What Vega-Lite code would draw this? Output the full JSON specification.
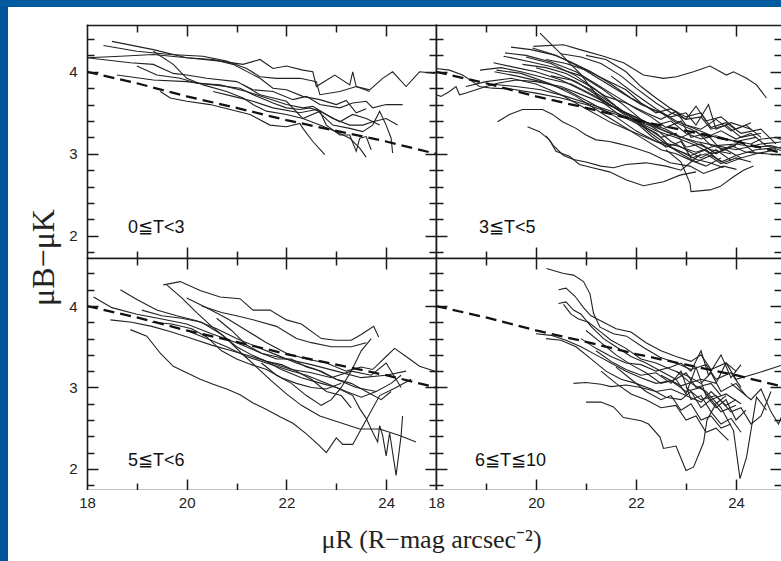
{
  "$schema": "https://vega.github.io/schema/vega-lite/v6.json",
  "background": "white",
  "padding": 0,
  "spacing": 0,
  "bounds": "flush",
  "config": {
    "view": {"stroke": null, "fill": "white"},
    "axis": {"grid": false, "domain": false, "labels": false, "labelFlush": false, "minExtent": 0, "tickColor": "#1a1a1a", "tickWidth": 1.5, "domainColor": "#1a1a1a", "domainWidth": 1.6, "domainCap": "square"}
  },
  "datasets": {
    "dash": [
      {"x": 18, "y": 4.0}, {"x": 19, "y": 3.86}, {"x": 20, "y": 3.7}, {"x": 21, "y": 3.56},
      {"x": 22, "y": 3.41}, {"x": 23, "y": 3.28}, {"x": 24, "y": 3.15}, {"x": 25, "y": 3.0}
    ],
    "tl": [
      {"g":"A","x":18.5,"y":4.37},{"g":"A","x":19.33,"y":4.27},{"g":"A","x":20.0,"y":4.17},{"g":"A","x":20.67,"y":4.13},{"g":"A","x":21.13,"y":4.09},{"g":"A","x":21.47,"y":4.15},{"g":"A","x":21.73,"y":4.04},{"g":"A","x":22.0,"y":4.07},{"g":"A","x":22.33,"y":4.02},{"g":"A","x":22.53,"y":4.0},{"g":"A","x":22.6,"y":3.82},{"g":"A","x":22.97,"y":3.96},{"g":"A","x":23.27,"y":3.84},{"g":"A","x":23.33,"y":4.0},{"g":"A","x":23.4,"y":3.82},{"g":"A","x":23.67,"y":3.78},{"g":"A","x":23.93,"y":3.92},{"g":"A","x":24.13,"y":4.0},{"g":"A","x":24.4,"y":3.82},{"g":"A","x":24.67,"y":4.0},{"g":"A","x":24.98,"y":3.98},
      {"g":"B","x":18.33,"y":4.32},{"g":"B","x":19.0,"y":4.25},{"g":"B","x":19.67,"y":4.21},{"g":"B","x":20.33,"y":4.19},{"g":"B","x":20.8,"y":4.13},{"g":"B","x":21.2,"y":4.04},{"g":"B","x":21.47,"y":3.94},{"g":"B","x":21.8,"y":3.92},{"g":"B","x":22.27,"y":3.92},{"g":"B","x":22.6,"y":3.88},{"g":"B","x":22.67,"y":3.72},{"g":"B","x":23.07,"y":3.76},{"g":"B","x":23.4,"y":3.82},{"g":"B","x":23.67,"y":3.76},
      {"g":"C","x":18.0,"y":4.17},{"g":"C","x":18.67,"y":4.19},{"g":"C","x":19.33,"y":4.21},{"g":"C","x":20.0,"y":4.17},{"g":"C","x":20.53,"y":4.15},{"g":"C","x":20.93,"y":4.09},{"g":"C","x":21.47,"y":3.92},{"g":"C","x":21.73,"y":3.8},{"g":"C","x":22.0,"y":3.78},{"g":"C","x":22.33,"y":3.7},{"g":"C","x":22.67,"y":3.66},{"g":"C","x":23.0,"y":3.6},{"g":"C","x":23.2,"y":3.65},{"g":"C","x":23.4,"y":3.5},{"g":"C","x":23.6,"y":3.55},
      {"g":"D","x":18.0,"y":4.17},{"g":"D","x":18.87,"y":4.11},{"g":"D","x":19.33,"y":4.09},{"g":"D","x":19.73,"y":3.98},{"g":"D","x":20.0,"y":3.96},{"g":"D","x":20.4,"y":3.92},{"g":"D","x":21.0,"y":3.88},{"g":"D","x":21.33,"y":3.78},{"g":"D","x":21.73,"y":3.76},{"g":"D","x":22.13,"y":3.66},{"g":"D","x":22.4,"y":3.7},{"g":"D","x":22.67,"y":3.6},{"g":"D","x":23.07,"y":3.56},{"g":"D","x":23.33,"y":3.62},{"g":"D","x":23.6,"y":3.64},{"g":"D","x":23.73,"y":3.56},{"g":"D","x":24.0,"y":3.6},{"g":"D","x":24.33,"y":3.6},
      {"g":"E","x":18.6,"y":3.96},{"g":"E","x":19.33,"y":3.9},{"g":"E","x":20.0,"y":3.88},{"g":"E","x":20.53,"y":3.84},{"g":"E","x":21.07,"y":3.8},{"g":"E","x":21.33,"y":3.72},{"g":"E","x":21.73,"y":3.62},{"g":"E","x":22.0,"y":3.56},{"g":"E","x":22.27,"y":3.54},{"g":"E","x":22.47,"y":3.56},{"g":"E","x":22.67,"y":3.52},{"g":"E","x":22.93,"y":3.43},{"g":"E","x":23.27,"y":3.35},{"g":"E","x":23.53,"y":3.35},{"g":"E","x":23.73,"y":3.39},{"g":"E","x":24.0,"y":3.43},{"g":"E","x":24.23,"y":3.35},
      {"g":"F","x":19.0,"y":4.07},{"g":"F","x":19.4,"y":3.96},{"g":"F","x":19.87,"y":3.92},{"g":"F","x":20.2,"y":3.86},{"g":"F","x":20.67,"y":3.84},{"g":"F","x":21.2,"y":3.76},{"g":"F","x":21.6,"y":3.68},{"g":"F","x":22.0,"y":3.6},{"g":"F","x":22.33,"y":3.56},{"g":"F","x":22.53,"y":3.58},{"g":"F","x":22.8,"y":3.48},{"g":"F","x":23.07,"y":3.39},{"g":"F","x":23.33,"y":3.48},{"g":"F","x":23.6,"y":3.43},{"g":"F","x":23.87,"y":3.35},
      {"g":"G","x":19.47,"y":3.76},{"g":"G","x":19.67,"y":3.68},{"g":"G","x":20.0,"y":3.64},{"g":"G","x":20.47,"y":3.6},{"g":"G","x":20.87,"y":3.54},{"g":"G","x":21.27,"y":3.48},{"g":"G","x":21.67,"y":3.35},{"g":"G","x":22.0,"y":3.33},{"g":"G","x":22.27,"y":3.37},{"g":"G","x":22.33,"y":3.31},{"g":"G","x":22.53,"y":3.15},{"g":"G","x":22.77,"y":2.99},
      {"g":"H","x":19.33,"y":4.25},{"g":"H","x":19.73,"y":4.09},{"g":"H","x":20.0,"y":3.92},{"g":"H","x":20.33,"y":3.84},{"g":"H","x":20.8,"y":3.76},{"g":"H","x":21.13,"y":3.68},{"g":"H","x":21.33,"y":3.6},{"g":"H","x":21.6,"y":3.52},{"g":"H","x":22.0,"y":3.48},{"g":"H","x":22.33,"y":3.43},{"g":"H","x":22.67,"y":3.35},{"g":"H","x":23.0,"y":3.27},{"g":"H","x":23.27,"y":3.19},{"g":"H","x":23.47,"y":3.07},{"g":"H","x":23.6,"y":2.96},
      {"g":"I","x":20.53,"y":3.76},{"g":"I","x":20.93,"y":3.7},{"g":"I","x":21.33,"y":3.64},{"g":"I","x":21.73,"y":3.56},{"g":"I","x":22.27,"y":3.5},{"g":"I","x":22.6,"y":3.54},{"g":"I","x":22.93,"y":3.35},{"g":"I","x":23.27,"y":3.31},{"g":"I","x":23.53,"y":3.27},{"g":"I","x":23.73,"y":3.35},{"g":"I","x":23.87,"y":3.52},{"g":"I","x":24.0,"y":3.35},{"g":"I","x":24.1,"y":3.19},{"g":"I","x":24.13,"y":3.01},
      {"g":"J","x":21.13,"y":3.84},{"g":"J","x":21.47,"y":3.72},{"g":"J","x":22.0,"y":3.64},{"g":"J","x":22.33,"y":3.43},{"g":"J","x":22.67,"y":3.52},{"g":"J","x":22.8,"y":3.35},{"g":"J","x":23.07,"y":3.23},{"g":"J","x":23.27,"y":3.23},{"g":"J","x":23.4,"y":3.03},{"g":"J","x":23.47,"y":3.19},{"g":"J","x":23.6,"y":3.21},{"g":"J","x":23.7,"y":3.05}
    ],
    "tr": [
      {"g":"T1","x":18.0,"y":4.04},{"g":"T1","x":18.27,"y":4.02},{"g":"T1","x":18.53,"y":3.96},{"g":"T1","x":18.73,"y":3.88},{"g":"T1","x":18.87,"y":3.82},{"g":"T1","x":19.13,"y":3.8},{"g":"T1","x":19.5,"y":3.79},{"g":"T1","x":20.0,"y":3.74},{"g":"T1","x":20.5,"y":3.68},{"g":"T1","x":21.0,"y":3.6},{"g":"T1","x":21.5,"y":3.5},{"g":"T1","x":22.0,"y":3.4},{"g":"T1","x":22.4,"y":3.32},{"g":"T1","x":22.8,"y":3.22},{"g":"T1","x":23.2,"y":3.15},{"g":"T1","x":23.6,"y":3.1},{"g":"T1","x":24.0,"y":3.12},{"g":"T1","x":24.4,"y":3.08},{"g":"T1","x":24.7,"y":3.1},{"g":"T1","x":25.0,"y":3.05},
      {"g":"T2","x":18.0,"y":3.72},{"g":"T2","x":18.1,"y":3.7},{"g":"T2","x":18.27,"y":3.76},{"g":"T2","x":18.4,"y":3.82},{"g":"T2","x":18.47,"y":3.72},{"g":"T2","x":18.6,"y":3.74},{"g":"T2","x":18.8,"y":3.78},{"g":"T2","x":19.0,"y":3.82},{"g":"T2","x":19.23,"y":3.86},{"g":"T2","x":19.6,"y":3.9},{"g":"T2","x":20.0,"y":3.88},{"g":"T2","x":20.5,"y":3.82},{"g":"T2","x":21.0,"y":3.7},{"g":"T2","x":21.5,"y":3.58},{"g":"T2","x":22.0,"y":3.45},{"g":"T2","x":22.5,"y":3.3},{"g":"T2","x":23.0,"y":3.18},{"g":"T2","x":23.5,"y":3.05},{"g":"T2","x":23.9,"y":3.0},
      {"g":"T3","x":19.95,"y":4.31},{"g":"T3","x":20.55,"y":4.33},{"g":"T3","x":20.88,"y":4.27},{"g":"T3","x":21.35,"y":4.19},{"g":"T3","x":21.75,"y":4.11},{"g":"T3","x":22.15,"y":3.96},{"g":"T3","x":22.55,"y":3.92},{"g":"T3","x":22.81,"y":3.94},{"g":"T3","x":23.15,"y":4.0},{"g":"T3","x":23.48,"y":4.07},{"g":"T3","x":23.81,"y":3.96},{"g":"T3","x":23.95,"y":4.0},{"g":"T3","x":24.21,"y":3.92},{"g":"T3","x":24.41,"y":3.84},{"g":"T3","x":24.61,"y":3.68},
      {"g":"T4","x":20.08,"y":4.47},{"g":"T4","x":20.28,"y":4.35},{"g":"T4","x":20.48,"y":4.23},{"g":"T4","x":20.68,"y":4.1},{"g":"T4","x":20.88,"y":3.98},{"g":"T4","x":21.08,"y":3.82},{"g":"T4","x":21.35,"y":3.62},{"g":"T4","x":21.61,"y":3.5},{"g":"T4","x":21.88,"y":3.41},{"g":"T4","x":22.15,"y":3.33},{"g":"T4","x":22.41,"y":3.25},{"g":"T4","x":22.68,"y":3.09},{"g":"T4","x":22.95,"y":3.01},{"g":"T4","x":23.21,"y":2.93},{"g":"T4","x":23.48,"y":2.89},{"g":"T4","x":23.75,"y":2.83},
      {"g":"T5","x":19.23,"y":3.39},{"g":"T5","x":19.47,"y":3.48},{"g":"T5","x":19.73,"y":3.54},{"g":"T5","x":20.13,"y":3.54},{"g":"T5","x":20.33,"y":3.48},{"g":"T5","x":20.53,"y":3.39},{"g":"T5","x":20.8,"y":3.31},{"g":"T5","x":21.0,"y":3.23},{"g":"T5","x":21.2,"y":3.17},{"g":"T5","x":21.47,"y":3.15},{"g":"T5","x":21.61,"y":3.13},{"g":"T5","x":21.88,"y":3.09},{"g":"T5","x":22.28,"y":3.01},{"g":"T5","x":22.68,"y":2.89},{"g":"T5","x":23.08,"y":2.85},{"g":"T5","x":23.35,"y":2.76},{"g":"T5","x":23.75,"y":2.85},{"g":"T5","x":24.01,"y":2.81},
      {"g":"T6","x":19.83,"y":3.33},{"g":"T6","x":20.07,"y":3.27},{"g":"T6","x":20.27,"y":3.17},{"g":"T6","x":20.4,"y":3.03},{"g":"T6","x":20.67,"y":2.97},{"g":"T6","x":20.87,"y":2.87},{"g":"T6","x":21.13,"y":2.83},{"g":"T6","x":21.47,"y":2.78},{"g":"T6","x":21.81,"y":2.68},{"g":"T6","x":22.15,"y":2.61},{"g":"T6","x":22.55,"y":2.66},{"g":"T6","x":22.88,"y":2.74},{"g":"T6","x":23.2,"y":2.78},
      {"g":"T7","x":20.2,"y":3.22},{"g":"T7","x":20.35,"y":3.1},{"g":"T7","x":20.55,"y":2.98},{"g":"T7","x":20.75,"y":2.93},{"g":"T7","x":21.0,"y":2.9},{"g":"T7","x":21.3,"y":2.85},{"g":"T7","x":21.55,"y":2.83},{"g":"T7","x":21.8,"y":2.87},{"g":"T7","x":22.2,"y":2.89},{"g":"T7","x":22.6,"y":2.85},{"g":"T7","x":22.9,"y":2.8},{"g":"T7","x":23.1,"y":2.9},{"g":"T7","x":23.3,"y":3.0},
      {"g":"Z","x":22.6,"y":3.05},{"g":"Z","x":22.9,"y":2.9},{"g":"Z","x":23.08,"y":2.64},{"g":"Z","x":23.1,"y":2.54},{"g":"Z","x":23.48,"y":2.56},{"g":"Z","x":23.68,"y":2.6},{"g":"Z","x":23.95,"y":2.72},{"g":"Z","x":24.15,"y":2.8},{"g":"Z","x":24.35,"y":2.85},
      {"g":"B1","x":19.15,"y":4.11},{"g":"B1","x":19.6,"y":4.05},{"g":"B1","x":20.0,"y":4.0},{"g":"B1","x":20.5,"y":3.9},{"g":"B1","x":21.0,"y":3.75},{"g":"B1","x":21.4,"y":3.62},{"g":"B1","x":21.8,"y":3.5},{"g":"B1","x":22.2,"y":3.38},{"g":"B1","x":22.6,"y":3.3},{"g":"B1","x":22.9,"y":3.2},{"g":"B1","x":23.2,"y":3.28},{"g":"B1","x":23.5,"y":3.1},{"g":"B1","x":23.8,"y":3.05},{"g":"B1","x":24.1,"y":3.15},{"g":"B1","x":24.4,"y":3.0},
      {"g":"B2","x":19.38,"y":4.23},{"g":"B2","x":19.8,"y":4.2},{"g":"B2","x":20.3,"y":4.12},{"g":"B2","x":20.8,"y":4.0},{"g":"B2","x":21.2,"y":3.85},{"g":"B2","x":21.6,"y":3.7},{"g":"B2","x":22.0,"y":3.55},{"g":"B2","x":22.3,"y":3.45},{"g":"B2","x":22.6,"y":3.32},{"g":"B2","x":22.9,"y":3.4},{"g":"B2","x":23.1,"y":3.2},{"g":"B2","x":23.4,"y":3.25},{"g":"B2","x":23.7,"y":3.05},{"g":"B2","x":24.0,"y":3.1},
      {"g":"B3","x":19.35,"y":4.19},{"g":"B3","x":19.9,"y":4.12},{"g":"B3","x":20.4,"y":4.05},{"g":"B3","x":20.9,"y":3.95},{"g":"B3","x":21.3,"y":3.8},{"g":"B3","x":21.7,"y":3.62},{"g":"B3","x":22.1,"y":3.42},{"g":"B3","x":22.4,"y":3.3},{"g":"B3","x":22.7,"y":3.15},{"g":"B3","x":23.0,"y":3.05},{"g":"B3","x":23.3,"y":2.95},{"g":"B3","x":23.6,"y":3.05},{"g":"B3","x":23.9,"y":2.92},
      {"g":"B4","x":18.88,"y":4.02},{"g":"B4","x":19.3,"y":4.05},{"g":"B4","x":19.7,"y":4.0},{"g":"B4","x":20.2,"y":3.92},{"g":"B4","x":20.7,"y":3.85},{"g":"B4","x":21.2,"y":3.7},{"g":"B4","x":21.6,"y":3.55},{"g":"B4","x":22.0,"y":3.42},{"g":"B4","x":22.4,"y":3.35},{"g":"B4","x":22.7,"y":3.4},{"g":"B4","x":23.0,"y":3.25},{"g":"B4","x":23.3,"y":3.18},{"g":"B4","x":23.6,"y":3.22},{"g":"B4","x":24.0,"y":3.15},{"g":"B4","x":24.4,"y":3.2},
      {"g":"B5","x":19.21,"y":4.02},{"g":"B5","x":19.7,"y":3.98},{"g":"B5","x":20.3,"y":3.85},{"g":"B5","x":20.8,"y":3.7},{"g":"B5","x":21.3,"y":3.5},{"g":"B5","x":21.7,"y":3.35},{"g":"B5","x":22.1,"y":3.2},{"g":"B5","x":22.5,"y":3.05},{"g":"B5","x":22.8,"y":3.0},{"g":"B5","x":23.1,"y":2.92},{"g":"B5","x":23.4,"y":2.85},{"g":"B5","x":23.7,"y":2.95},
      {"g":"B6","x":19.73,"y":4.09},{"g":"B6","x":20.2,"y":4.05},{"g":"B6","x":20.6,"y":3.98},{"g":"B6","x":21.0,"y":3.85},{"g":"B6","x":21.4,"y":3.7},{"g":"B6","x":21.8,"y":3.62},{"g":"B6","x":22.2,"y":3.5},{"g":"B6","x":22.5,"y":3.42},{"g":"B6","x":22.8,"y":3.52},{"g":"B6","x":23.0,"y":3.35},{"g":"B6","x":23.3,"y":3.3},{"g":"B6","x":23.6,"y":3.42},{"g":"B6","x":23.9,"y":3.28},{"g":"B6","x":24.2,"y":3.35},{"g":"B6","x":24.5,"y":3.2},
      {"g":"B7","x":19.93,"y":4.29},{"g":"B7","x":20.3,"y":4.22},{"g":"B7","x":20.7,"y":4.12},{"g":"B7","x":21.1,"y":4.0},{"g":"B7","x":21.5,"y":3.85},{"g":"B7","x":21.9,"y":3.68},{"g":"B7","x":22.3,"y":3.55},{"g":"B7","x":22.7,"y":3.45},{"g":"B7","x":23.0,"y":3.5},{"g":"B7","x":23.2,"y":3.35},{"g":"B7","x":23.45,"y":3.6},{"g":"B7","x":23.6,"y":3.3},{"g":"B7","x":23.9,"y":3.38},{"g":"B7","x":24.3,"y":3.3},
      {"g":"B8","x":19.17,"y":4.0},{"g":"B8","x":19.6,"y":3.95},{"g":"B8","x":20.1,"y":3.88},{"g":"B8","x":20.6,"y":3.78},{"g":"B8","x":21.1,"y":3.62},{"g":"B8","x":21.6,"y":3.45},{"g":"B8","x":22.0,"y":3.28},{"g":"B8","x":22.4,"y":3.15},{"g":"B8","x":22.8,"y":3.05},{"g":"B8","x":23.1,"y":2.98},{"g":"B8","x":23.4,"y":3.05},{"g":"B8","x":23.7,"y":2.9},{"g":"B8","x":24.0,"y":2.98},{"g":"B8","x":24.4,"y":3.05},{"g":"B8","x":24.9,"y":3.08},
      {"g":"B9","x":18.6,"y":3.82},{"g":"B9","x":19.0,"y":3.88},{"g":"B9","x":19.5,"y":3.92},{"g":"B9","x":20.0,"y":3.85},{"g":"B9","x":20.5,"y":3.72},{"g":"B9","x":21.0,"y":3.55},{"g":"B9","x":21.5,"y":3.38},{"g":"B9","x":22.0,"y":3.25},{"g":"B9","x":22.4,"y":3.15},{"g":"B9","x":22.8,"y":3.1},{"g":"B9","x":23.2,"y":3.02},{"g":"B9","x":23.6,"y":3.1},{"g":"B9","x":24.0,"y":3.05},{"g":"B9","x":24.5,"y":3.12},{"g":"B9","x":25.0,"y":3.15},
      {"g":"B10","x":19.5,"y":4.3},{"g":"B10","x":19.9,"y":4.27},{"g":"B10","x":20.4,"y":4.2},{"g":"B10","x":20.9,"y":4.05},{"g":"B10","x":21.3,"y":3.9},{"g":"B10","x":21.7,"y":3.75},{"g":"B10","x":22.1,"y":3.6},{"g":"B10","x":22.5,"y":3.5},{"g":"B10","x":22.8,"y":3.38},{"g":"B10","x":23.1,"y":3.3},{"g":"B10","x":23.4,"y":3.2},{"g":"B10","x":23.7,"y":3.28},{"g":"B10","x":24.0,"y":3.18},{"g":"B10","x":24.3,"y":3.25},{"g":"B10","x":24.6,"y":3.1},{"g":"B10","x":25.0,"y":3.02},
      {"g":"B11","x":20.2,"y":4.15},{"g":"B11","x":20.6,"y":4.1},{"g":"B11","x":21.0,"y":4.02},{"g":"B11","x":21.4,"y":3.9},{"g":"B11","x":21.8,"y":3.78},{"g":"B11","x":22.1,"y":3.62},{"g":"B11","x":22.4,"y":3.5},{"g":"B11","x":22.7,"y":3.55},{"g":"B11","x":23.0,"y":3.42},{"g":"B11","x":23.3,"y":3.45},{"g":"B11","x":23.5,"y":3.3},{"g":"B11","x":23.8,"y":3.35},{"g":"B11","x":24.1,"y":3.2},{"g":"B11","x":24.5,"y":3.25},
      {"g":"B12","x":19.8,"y":4.18},{"g":"B12","x":20.3,"y":4.1},{"g":"B12","x":20.8,"y":3.95},{"g":"B12","x":21.2,"y":3.78},{"g":"B12","x":21.6,"y":3.58},{"g":"B12","x":22.0,"y":3.4},{"g":"B12","x":22.3,"y":3.25},{"g":"B12","x":22.6,"y":3.12},{"g":"B12","x":22.9,"y":3.0},{"g":"B12","x":23.2,"y":2.9},{"g":"B12","x":23.5,"y":2.98},{"g":"B12","x":23.8,"y":2.88},{"g":"B12","x":24.1,"y":2.95},
      {"g":"B13","x":20.5,"y":4.22},{"g":"B13","x":20.9,"y":4.18},{"g":"B13","x":21.3,"y":4.1},{"g":"B13","x":21.7,"y":3.95},{"g":"B13","x":22.0,"y":3.8},{"g":"B13","x":22.4,"y":3.62},{"g":"B13","x":22.7,"y":3.5},{"g":"B13","x":23.0,"y":3.42},{"g":"B13","x":23.2,"y":3.58},{"g":"B13","x":23.4,"y":3.4},{"g":"B13","x":23.7,"y":3.45},{"g":"B13","x":24.0,"y":3.3},{"g":"B13","x":24.3,"y":3.38},
      {"g":"B14","x":19.1,"y":3.85},{"g":"B14","x":19.6,"y":3.82},{"g":"B14","x":20.1,"y":3.78},{"g":"B14","x":20.6,"y":3.7},{"g":"B14","x":21.1,"y":3.6},{"g":"B14","x":21.6,"y":3.5},{"g":"B14","x":22.0,"y":3.4},{"g":"B14","x":22.4,"y":3.28},{"g":"B14","x":22.8,"y":3.2},{"g":"B14","x":23.2,"y":3.1},{"g":"B14","x":23.5,"y":3.0},{"g":"B14","x":23.8,"y":3.05},{"g":"B14","x":24.1,"y":2.95},{"g":"B14","x":24.4,"y":3.0},{"g":"B14","x":24.8,"y":3.05},
      {"g":"B15","x":20.0,"y":4.05},{"g":"B15","x":20.4,"y":3.98},{"g":"B15","x":20.8,"y":3.88},{"g":"B15","x":21.2,"y":3.72},{"g":"B15","x":21.6,"y":3.55},{"g":"B15","x":22.0,"y":3.38},{"g":"B15","x":22.3,"y":3.22},{"g":"B15","x":22.6,"y":3.08},{"g":"B15","x":22.9,"y":3.15},{"g":"B15","x":23.1,"y":2.95},{"g":"B15","x":23.4,"y":3.0},{"g":"B15","x":23.7,"y":2.88},{"g":"B15","x":24.0,"y":2.95},{"g":"B15","x":24.3,"y":2.9},
      {"g":"B16","x":21.0,"y":4.2},{"g":"B16","x":21.4,"y":4.15},{"g":"B16","x":21.8,"y":4.0},{"g":"B16","x":22.1,"y":3.82},{"g":"B16","x":22.4,"y":3.68},{"g":"B16","x":22.7,"y":3.55},{"g":"B16","x":23.0,"y":3.45},{"g":"B16","x":23.3,"y":3.5},{"g":"B16","x":23.5,"y":3.32},{"g":"B16","x":23.8,"y":3.38},{"g":"B16","x":24.1,"y":3.25},{"g":"B16","x":24.5,"y":3.3},{"g":"B16","x":24.8,"y":3.12},
      {"g":"B17","x":21.5,"y":3.95},{"g":"B17","x":22.0,"y":3.72},{"g":"B17","x":22.4,"y":3.55},{"g":"B17","x":22.8,"y":3.4},{"g":"B17","x":23.2,"y":3.3},{"g":"B17","x":23.6,"y":3.2},{"g":"B17","x":24.0,"y":3.15},{"g":"B17","x":24.3,"y":3.12},{"g":"B17","x":24.5,"y":3.18},{"g":"B17","x":24.8,"y":3.2},{"g":"B17","x":25.0,"y":3.15},
      {"g":"B18","x":20.3,"y":3.95},{"g":"B18","x":20.7,"y":3.9},{"g":"B18","x":21.1,"y":3.78},{"g":"B18","x":21.5,"y":3.62},{"g":"B18","x":21.9,"y":3.45},{"g":"B18","x":22.2,"y":3.32},{"g":"B18","x":22.5,"y":3.2},{"g":"B18","x":22.8,"y":3.25},{"g":"B18","x":23.0,"y":3.08},{"g":"B18","x":23.3,"y":3.12},{"g":"B18","x":23.6,"y":3.0},{"g":"B18","x":23.9,"y":3.1},{"g":"B18","x":24.2,"y":3.02},{"g":"B18","x":24.6,"y":3.0},{"g":"B18","x":25.0,"y":2.98}
    ],
    "bl": [
      {"g":"P1","x":18.87,"y":3.71},{"g":"P1","x":19.2,"y":3.63},{"g":"P1","x":19.47,"y":3.42},{"g":"P1","x":19.73,"y":3.26},{"g":"P1","x":20.0,"y":3.18},{"g":"P1","x":20.27,"y":3.1},{"g":"P1","x":20.53,"y":3.04},{"g":"P1","x":20.8,"y":2.98},{"g":"P1","x":21.07,"y":2.91},{"g":"P1","x":21.33,"y":2.81},{"g":"P1","x":21.6,"y":2.73},{"g":"P1","x":21.87,"y":2.64},{"g":"P1","x":22.13,"y":2.56},{"g":"P1","x":22.4,"y":2.43},{"g":"P1","x":22.67,"y":2.28},{"g":"P1","x":22.8,"y":2.2},{"g":"P1","x":23.0,"y":2.38},{"g":"P1","x":23.13,"y":2.3},{"g":"P1","x":23.33,"y":2.3},{"g":"P1","x":23.6,"y":2.6},{"g":"P1","x":23.87,"y":2.9},{"g":"P1","x":24.2,"y":3.0},{"g":"P1","x":24.5,"y":3.1},
      {"g":"P2","x":21.5,"y":3.35},{"g":"P2","x":21.9,"y":3.22},{"g":"P2","x":22.3,"y":3.12},{"g":"P2","x":22.7,"y":3.05},{"g":"P2","x":23.0,"y":3.0},{"g":"P2","x":23.33,"y":2.9},{"g":"P2","x":23.47,"y":2.74},{"g":"P2","x":23.6,"y":2.62},{"g":"P2","x":23.73,"y":2.45},{"g":"P2","x":23.83,"y":2.33},{"g":"P2","x":23.87,"y":2.53},{"g":"P2","x":23.93,"y":2.41},{"g":"P2","x":24.0,"y":2.16},{"g":"P2","x":24.07,"y":2.44},{"g":"P2","x":24.2,"y":1.92},{"g":"P2","x":24.3,"y":2.41},{"g":"P2","x":24.33,"y":2.65},
      {"g":"P3","x":19.53,"y":4.26},{"g":"P3","x":19.87,"y":4.3},{"g":"P3","x":20.27,"y":4.19},{"g":"P3","x":20.67,"y":4.11},{"g":"P3","x":21.07,"y":4.09},{"g":"P3","x":21.33,"y":3.95},{"g":"P3","x":21.67,"y":3.95},{"g":"P3","x":22.0,"y":3.83},{"g":"P3","x":22.3,"y":3.78},{"g":"P3","x":22.7,"y":3.6},{"g":"P3","x":23.0,"y":3.58},{"g":"P3","x":23.3,"y":3.58},{"g":"P3","x":23.5,"y":3.65},{"g":"P3","x":23.75,"y":3.75},{"g":"P3","x":23.85,"y":3.62},
      {"g":"P4","x":18.67,"y":4.2},{"g":"P4","x":19.0,"y":4.08},{"g":"P4","x":19.4,"y":3.95},{"g":"P4","x":19.8,"y":3.88},{"g":"P4","x":20.2,"y":3.82},{"g":"P4","x":20.6,"y":3.72},{"g":"P4","x":21.0,"y":3.6},{"g":"P4","x":21.4,"y":3.5},{"g":"P4","x":21.8,"y":3.4},{"g":"P4","x":22.2,"y":3.3},{"g":"P4","x":22.6,"y":3.22},{"g":"P4","x":23.0,"y":3.1},{"g":"P4","x":23.4,"y":3.0},{"g":"P4","x":23.8,"y":2.95},
      {"g":"P5","x":18.13,"y":4.11},{"g":"P5","x":18.5,"y":3.98},{"g":"P5","x":19.0,"y":3.9},{"g":"P5","x":19.5,"y":3.84},{"g":"P5","x":20.0,"y":3.78},{"g":"P5","x":20.5,"y":3.66},{"g":"P5","x":21.0,"y":3.55},{"g":"P5","x":21.5,"y":3.42},{"g":"P5","x":22.0,"y":3.35},{"g":"P5","x":22.5,"y":3.28},{"g":"P5","x":23.0,"y":3.2},{"g":"P5","x":23.5,"y":3.12},{"g":"P5","x":24.0,"y":3.15},{"g":"P5","x":24.4,"y":3.2},
      {"g":"P6","x":18.47,"y":3.83},{"g":"P6","x":18.9,"y":3.8},{"g":"P6","x":19.3,"y":3.75},{"g":"P6","x":19.7,"y":3.68},{"g":"P6","x":20.1,"y":3.6},{"g":"P6","x":20.5,"y":3.52},{"g":"P6","x":20.9,"y":3.45},{"g":"P6","x":21.3,"y":3.38},{"g":"P6","x":21.7,"y":3.3},{"g":"P6","x":22.1,"y":3.22},{"g":"P6","x":22.5,"y":3.18},{"g":"P6","x":22.9,"y":3.12},{"g":"P6","x":23.3,"y":3.2},{"g":"P6","x":23.7,"y":3.15},{"g":"P6","x":24.0,"y":3.3},{"g":"P6","x":24.3,"y":3.0},
      {"g":"P7","x":19.6,"y":4.26},{"g":"P7","x":19.9,"y":4.1},{"g":"P7","x":20.2,"y":3.92},{"g":"P7","x":20.5,"y":3.75},{"g":"P7","x":20.8,"y":3.6},{"g":"P7","x":21.1,"y":3.42},{"g":"P7","x":21.4,"y":3.25},{"g":"P7","x":21.7,"y":3.08},{"g":"P7","x":22.0,"y":2.92},{"g":"P7","x":22.3,"y":2.78},{"g":"P7","x":22.67,"y":2.65},{"g":"P7","x":23.07,"y":2.57},{"g":"P7","x":23.47,"y":2.49},{"g":"P7","x":23.87,"y":2.49},{"g":"P7","x":24.27,"y":2.41},{"g":"P7","x":24.6,"y":2.33},
      {"g":"P8","x":20.0,"y":4.1},{"g":"P8","x":20.4,"y":3.98},{"g":"P8","x":20.8,"y":3.85},{"g":"P8","x":21.2,"y":3.7},{"g":"P8","x":21.6,"y":3.55},{"g":"P8","x":22.0,"y":3.42},{"g":"P8","x":22.4,"y":3.35},{"g":"P8","x":22.8,"y":3.3},{"g":"P8","x":23.2,"y":3.2},{"g":"P8","x":23.5,"y":3.25},{"g":"P8","x":23.73,"y":3.22},{"g":"P8","x":24.0,"y":3.38},{"g":"P8","x":24.17,"y":3.48},{"g":"P8","x":24.4,"y":3.38},{"g":"P8","x":24.67,"y":3.26},{"g":"P8","x":24.98,"y":3.2},
      {"g":"P9","x":20.3,"y":4.0},{"g":"P9","x":20.7,"y":3.92},{"g":"P9","x":21.0,"y":3.88},{"g":"P9","x":21.4,"y":3.82},{"g":"P9","x":21.8,"y":3.75},{"g":"P9","x":22.2,"y":3.6},{"g":"P9","x":22.5,"y":3.55},{"g":"P9","x":22.9,"y":3.5},{"g":"P9","x":23.3,"y":3.5},{"g":"P9","x":23.6,"y":3.55},
      {"g":"P10","x":19.1,"y":3.95},{"g":"P10","x":19.5,"y":3.88},{"g":"P10","x":19.9,"y":3.85},{"g":"P10","x":20.3,"y":3.8},{"g":"P10","x":20.7,"y":3.65},{"g":"P10","x":21.0,"y":3.5},{"g":"P10","x":21.3,"y":3.4},{"g":"P10","x":21.6,"y":3.32},{"g":"P10","x":21.9,"y":3.28},{"g":"P10","x":22.2,"y":3.2},{"g":"P10","x":22.5,"y":3.1},{"g":"P10","x":22.8,"y":2.95},{"g":"P10","x":23.1,"y":2.9},{"g":"P10","x":23.3,"y":2.75},
      {"g":"P11","x":19.3,"y":3.8},{"g":"P11","x":19.7,"y":3.78},{"g":"P11","x":20.1,"y":3.72},{"g":"P11","x":20.4,"y":3.62},{"g":"P11","x":20.7,"y":3.45},{"g":"P11","x":21.0,"y":3.35},{"g":"P11","x":21.3,"y":3.28},{"g":"P11","x":21.6,"y":3.22},{"g":"P11","x":21.9,"y":3.12},{"g":"P11","x":22.2,"y":3.05},{"g":"P11","x":22.5,"y":3.0},{"g":"P11","x":22.8,"y":2.98},{"g":"P11","x":23.1,"y":3.05},
      {"g":"P12","x":21.5,"y":3.3},{"g":"P12","x":21.8,"y":3.15},{"g":"P12","x":22.1,"y":3.05},{"g":"P12","x":22.4,"y":2.9},{"g":"P12","x":22.7,"y":2.78},{"g":"P12","x":22.9,"y":2.85},{"g":"P12","x":23.1,"y":3.0},{"g":"P12","x":23.3,"y":3.2},{"g":"P12","x":23.5,"y":3.45},{"g":"P12","x":23.7,"y":3.6},
      {"g":"P13","x":20.0,"y":3.7},{"g":"P13","x":20.4,"y":3.6},{"g":"P13","x":20.8,"y":3.5},{"g":"P13","x":21.2,"y":3.38},{"g":"P13","x":21.6,"y":3.3},{"g":"P13","x":22.0,"y":3.22},{"g":"P13","x":22.4,"y":3.15},{"g":"P13","x":22.8,"y":3.05},{"g":"P13","x":23.2,"y":2.95},{"g":"P13","x":23.5,"y":2.88},{"g":"P13","x":23.8,"y":2.95},{"g":"P13","x":24.1,"y":3.05},{"g":"P13","x":24.3,"y":3.15},
      {"g":"P14","x":20.6,"y":3.85},{"g":"P14","x":20.9,"y":3.7},{"g":"P14","x":21.2,"y":3.52},{"g":"P14","x":21.5,"y":3.42},{"g":"P14","x":21.8,"y":3.35},{"g":"P14","x":22.1,"y":3.35},{"g":"P14","x":22.4,"y":3.25},{"g":"P14","x":22.7,"y":3.2},{"g":"P14","x":23.0,"y":3.1},{"g":"P14","x":23.3,"y":3.05},{"g":"P14","x":23.6,"y":2.95},{"g":"P14","x":23.9,"y":2.85},{"g":"P14","x":24.1,"y":2.95}
    ],
    "br": [
      {"g":"R1","x":20.21,"y":4.46},{"g":"R1","x":20.55,"y":4.4},{"g":"R1","x":20.75,"y":4.38},{"g":"R1","x":20.95,"y":4.3},{"g":"R1","x":21.08,"y":4.15},{"g":"R1","x":21.15,"y":3.91},{"g":"R1","x":21.28,"y":3.74},{"g":"R1","x":21.55,"y":3.66},{"g":"R1","x":21.81,"y":3.63},{"g":"R1","x":22.15,"y":3.49},{"g":"R1","x":22.48,"y":3.37},{"g":"R1","x":22.8,"y":3.3},{"g":"R1","x":23.1,"y":3.22},{"g":"R1","x":23.4,"y":3.28},{"g":"R1","x":23.6,"y":3.1},{"g":"R1","x":23.9,"y":3.18},{"g":"R1","x":24.1,"y":3.0},
      {"g":"R2","x":20.45,"y":4.2},{"g":"R2","x":20.6,"y":4.22},{"g":"R2","x":20.78,"y":4.12},{"g":"R2","x":20.95,"y":3.98},{"g":"R2","x":21.1,"y":3.88},{"g":"R2","x":21.35,"y":3.8},{"g":"R2","x":21.6,"y":3.72},{"g":"R2","x":21.9,"y":3.68},{"g":"R2","x":22.2,"y":3.55},{"g":"R2","x":22.5,"y":3.45},{"g":"R2","x":22.8,"y":3.38},{"g":"R2","x":23.1,"y":3.32},{"g":"R2","x":23.3,"y":3.4},{"g":"R2","x":23.5,"y":3.22},{"g":"R2","x":23.8,"y":3.3},{"g":"R2","x":24.0,"y":3.2},
      {"g":"R3","x":20.55,"y":4.02},{"g":"R3","x":20.7,"y":3.9},{"g":"R3","x":20.85,"y":3.84},{"g":"R3","x":21.05,"y":3.8},{"g":"R3","x":21.3,"y":3.68},{"g":"R3","x":21.5,"y":3.58},{"g":"R3","x":21.8,"y":3.48},{"g":"R3","x":22.1,"y":3.35},{"g":"R3","x":22.4,"y":3.3},{"g":"R3","x":22.7,"y":3.22},{"g":"R3","x":23.0,"y":3.15},{"g":"R3","x":23.3,"y":3.05},{"g":"R3","x":23.5,"y":3.18},{"g":"R3","x":23.7,"y":2.95},{"g":"R3","x":24.0,"y":3.05},{"g":"R3","x":24.2,"y":2.9},
      {"g":"R4","x":20.0,"y":3.66},{"g":"R4","x":20.3,"y":3.64},{"g":"R4","x":20.6,"y":3.58},{"g":"R4","x":20.9,"y":3.5},{"g":"R4","x":21.2,"y":3.4},{"g":"R4","x":21.5,"y":3.3},{"g":"R4","x":21.8,"y":3.2},{"g":"R4","x":22.1,"y":3.12},{"g":"R4","x":22.4,"y":3.05},{"g":"R4","x":22.7,"y":3.08},{"g":"R4","x":23.0,"y":2.95},{"g":"R4","x":23.3,"y":3.0},{"g":"R4","x":23.5,"y":2.85},{"g":"R4","x":23.8,"y":2.92},{"g":"R4","x":24.1,"y":2.8},
      {"g":"R5","x":20.75,"y":3.05},{"g":"R5","x":21.0,"y":3.06},{"g":"R5","x":21.3,"y":3.04},{"g":"R5","x":21.5,"y":3.01},{"g":"R5","x":21.8,"y":3.03},{"g":"R5","x":22.1,"y":3.0},{"g":"R5","x":22.4,"y":2.95},{"g":"R5","x":22.7,"y":2.98},{"g":"R5","x":23.0,"y":2.9},{"g":"R5","x":23.3,"y":2.82},{"g":"R5","x":23.5,"y":2.95},{"g":"R5","x":23.8,"y":2.78},{"g":"R5","x":24.0,"y":2.85},
      {"g":"R6","x":21.0,"y":2.82},{"g":"R6","x":21.3,"y":2.82},{"g":"R6","x":21.55,"y":2.76},{"g":"R6","x":21.75,"y":2.63},{"g":"R6","x":22.1,"y":2.59},{"g":"R6","x":22.25,"y":2.55},{"g":"R6","x":22.48,"y":2.39},{"g":"R6","x":22.55,"y":2.25},{"g":"R6","x":22.8,"y":2.28},{"g":"R6","x":23.0,"y":1.98},{"g":"R6","x":23.15,"y":2.02},{"g":"R6","x":23.35,"y":2.32},{"g":"R6","x":23.42,"y":2.6},{"g":"R6","x":23.6,"y":2.8},{"g":"R6","x":23.8,"y":2.9},
      {"g":"R7","x":20.45,"y":4.03},{"g":"R7","x":20.6,"y":4.05},{"g":"R7","x":20.75,"y":3.95},{"g":"R7","x":20.9,"y":3.9},{"g":"R7","x":21.1,"y":3.75},{"g":"R7","x":21.35,"y":3.6},{"g":"R7","x":21.6,"y":3.5},{"g":"R7","x":21.9,"y":3.38},{"g":"R7","x":22.2,"y":3.3},{"g":"R7","x":22.5,"y":3.2},{"g":"R7","x":22.8,"y":3.1},{"g":"R7","x":23.0,"y":3.18},{"g":"R7","x":23.2,"y":3.0},{"g":"R7","x":23.5,"y":3.05},{"g":"R7","x":23.7,"y":2.9},
      {"g":"R8","x":20.2,"y":3.6},{"g":"R8","x":20.5,"y":3.58},{"g":"R8","x":20.8,"y":3.5},{"g":"R8","x":21.1,"y":3.35},{"g":"R8","x":21.4,"y":3.2},{"g":"R8","x":21.7,"y":3.1},{"g":"R8","x":22.0,"y":3.05},{"g":"R8","x":22.3,"y":2.98},{"g":"R8","x":22.6,"y":2.88},{"g":"R8","x":22.9,"y":2.85},{"g":"R8","x":23.1,"y":2.95},{"g":"R8","x":23.3,"y":2.75},{"g":"R8","x":23.5,"y":2.85},{"g":"R8","x":23.7,"y":2.7},{"g":"R8","x":24.0,"y":2.78},
      {"g":"R9","x":21.0,"y":3.7},{"g":"R9","x":21.3,"y":3.55},{"g":"R9","x":21.6,"y":3.4},{"g":"R9","x":21.9,"y":3.28},{"g":"R9","x":22.2,"y":3.18},{"g":"R9","x":22.5,"y":3.05},{"g":"R9","x":22.8,"y":3.1},{"g":"R9","x":23.0,"y":2.92},{"g":"R9","x":23.2,"y":3.25},{"g":"R9","x":23.4,"y":2.9},{"g":"R9","x":23.6,"y":2.75},{"g":"R9","x":23.8,"y":2.85},{"g":"R9","x":24.0,"y":2.6},{"g":"R9","x":24.2,"y":2.72},
      {"g":"R10","x":21.2,"y":3.45},{"g":"R10","x":21.5,"y":3.32},{"g":"R10","x":21.8,"y":3.22},{"g":"R10","x":22.1,"y":3.15},{"g":"R10","x":22.4,"y":3.18},{"g":"R10","x":22.7,"y":3.05},{"g":"R10","x":22.9,"y":3.2},{"g":"R10","x":23.1,"y":2.85},{"g":"R10","x":23.3,"y":2.9},{"g":"R10","x":23.5,"y":2.7},{"g":"R10","x":23.7,"y":2.55},{"g":"R10","x":23.9,"y":2.62},{"g":"R10","x":24.1,"y":2.45},
      {"g":"R11","x":21.3,"y":3.2},{"g":"R11","x":21.6,"y":3.05},{"g":"R11","x":21.9,"y":2.92},{"g":"R11","x":22.2,"y":2.85},{"g":"R11","x":22.5,"y":2.75},{"g":"R11","x":22.8,"y":2.78},{"g":"R11","x":23.0,"y":2.6},{"g":"R11","x":23.2,"y":2.65},{"g":"R11","x":23.4,"y":2.45},{"g":"R11","x":23.6,"y":2.5},{"g":"R11","x":23.85,"y":2.35},
      {"g":"R12","x":22.8,"y":3.2},{"g":"R12","x":23.1,"y":3.05},{"g":"R12","x":23.4,"y":2.95},{"g":"R12","x":23.7,"y":2.75},{"g":"R12","x":23.95,"y":2.47},{"g":"R12","x":24.08,"y":1.88},{"g":"R12","x":24.21,"y":2.14},{"g":"R12","x":24.41,"y":2.88},{"g":"R12","x":24.61,"y":2.72},
      {"g":"R13","x":22.5,"y":3.15},{"g":"R13","x":22.9,"y":3.02},{"g":"R13","x":23.3,"y":3.1},{"g":"R13","x":23.6,"y":3.05},{"g":"R13","x":23.8,"y":3.3},{"g":"R13","x":24.0,"y":3.1},{"g":"R13","x":24.4,"y":3.17},{"g":"R13","x":24.9,"y":3.27},
      {"g":"R14","x":23.9,"y":3.05},{"g":"R14","x":24.1,"y":2.95},{"g":"R14","x":24.3,"y":2.85},{"g":"R14","x":24.5,"y":2.98},{"g":"R14","x":24.7,"y":2.7},{"g":"R14","x":24.85,"y":2.55},{"g":"R14","x":24.95,"y":2.7},
      {"g":"R15","x":23.0,"y":3.0},{"g":"R15","x":23.3,"y":2.85},{"g":"R15","x":23.6,"y":2.9},{"g":"R15","x":23.9,"y":2.7},{"g":"R15","x":24.1,"y":2.75},{"g":"R15","x":24.3,"y":2.55},{"g":"R15","x":24.5,"y":2.65},{"g":"R15","x":24.7,"y":2.95},
      {"g":"R16","x":21.6,"y":3.25},{"g":"R16","x":21.9,"y":3.1},{"g":"R16","x":22.2,"y":2.95},{"g":"R16","x":22.5,"y":2.85},{"g":"R16","x":22.7,"y":2.9},{"g":"R16","x":22.9,"y":2.72},{"g":"R16","x":23.1,"y":2.8},{"g":"R16","x":23.3,"y":2.6},{"g":"R16","x":23.5,"y":2.65},{"g":"R16","x":23.7,"y":2.5},{"g":"R16","x":23.9,"y":2.55},
      {"g":"R17","x":20.9,"y":3.6},{"g":"R17","x":21.2,"y":3.48},{"g":"R17","x":21.5,"y":3.38},{"g":"R17","x":21.8,"y":3.3},{"g":"R17","x":22.1,"y":3.28},{"g":"R17","x":22.4,"y":3.2},{"g":"R17","x":22.7,"y":3.25},{"g":"R17","x":22.9,"y":3.3},{"g":"R17","x":23.1,"y":3.2},{"g":"R17","x":23.3,"y":3.45},{"g":"R17","x":23.45,"y":3.15},{"g":"R17","x":23.7,"y":3.4},{"g":"R17","x":23.9,"y":3.12},{"g":"R17","x":24.1,"y":3.28}
    ]
  },
  "vconcat": [
    {"width": 781, "height": 7, "data": {"values": [{"a": 1}]}, "mark": {"type": "point", "opacity": 0}, "view": {"fill": "#005aa0", "stroke": null}},
    {
      "spacing": 0,
      "bounds": "flush",
      "hconcat": [
        {"width": 8, "height": 554, "data": {"values": [{"a": 1}]}, "mark": {"type": "point", "opacity": 0}, "view": {"fill": "#00539a", "stroke": null}},
        {
          "spacing": 0,
          "bounds": "flush",
          "columns": 3,
          "concat": [
            {"width": 79, "height": 18, "data": {"values": [{"a": 1}]}, "mark": {"type": "point", "opacity": 0}, "view": {"fill": "white", "stroke": null}},
            {"width": 349, "height": 18, "data": {"values": [{"a": 1}]}, "mark": {"type": "point", "opacity": 0}, "view": {"fill": "white", "stroke": null}},
            {"width": 345, "height": 18, "data": {"values": [{"a": 1}]}, "mark": {"type": "point", "opacity": 0}, "view": {"fill": "white", "stroke": null}},

            {"width": 79, "height": 233, "data": {"values": [{"a": 1}]}, "mark": {"type": "point", "opacity": 0}, "view": {"fill": "white", "stroke": null}},
            {
              "width": 349, "height": 233,
              "view": {"stroke": null, "fill": "white"},
              "resolve": {"axis": {"x": "independent", "y": "independent"}},
              "layer": [
                {"data": {"name": "tl"}, "mark": {"type": "line", "stroke": "#222", "strokeWidth": 1.1, "clip": true},
                 "encoding": {
                   "x": {"field": "x", "type": "quantitative", "scale": {"domain": [18, 25], "nice": false, "zero": false}, "axis": {"orient": "bottom", "domain": true, "values": [20, 22, 24], "tickSize": -11, "title": null}},
                   "y": {"field": "y", "type": "quantitative", "scale": {"domain": [1.73, 4.57], "nice": false, "zero": false}, "axis": {"orient": "left", "domain": true, "values": [2, 3, 4], "tickSize": -11, "title": null}},
                   "detail": {"field": "g", "type": "nominal"}}},
                {"data": {"name": "dash"}, "mark": {"type": "line", "stroke": "#111", "strokeWidth": 2.3, "strokeDash": [11, 6], "clip": true},
                 "encoding": {
                   "x": {"field": "x", "type": "quantitative", "scale": {"domain": [18, 25], "nice": false, "zero": false}, "axis": {"orient": "bottom", "values": [19, 21, 23], "tickSize": -7, "title": null}},
                   "y": {"field": "y", "type": "quantitative", "scale": {"domain": [1.73, 4.57], "nice": false, "zero": false}, "axis": {"orient": "left", "values": [1.8, 2.2, 2.4, 2.6, 2.8, 3.2, 3.4, 3.6, 3.8, 4.2, 4.4], "tickSize": -7, "title": null}}}},
                {"data": {"values": [{"x": 18.82, "y": 2.1, "t": "0≦T<3"}]}, "mark": {"type": "text", "align": "left", "baseline": "middle", "font": "Liberation Sans", "fontSize": 18, "color": "#111"},
                 "encoding": {
                   "x": {"field": "x", "type": "quantitative", "scale": {"domain": [18, 25], "nice": false, "zero": false}, "axis": {"orient": "top", "domain": true, "values": [20, 22, 24], "tickSize": -11, "title": null}},
                   "y": {"field": "y", "type": "quantitative", "scale": {"domain": [1.73, 4.57], "nice": false, "zero": false}, "axis": {"orient": "right", "domain": true, "values": [2, 3, 4], "tickSize": -11, "title": null}},
                   "text": {"field": "t"}}},
                {"data": {"name": "dash"}, "mark": {"type": "line", "opacity": 0},
                 "encoding": {
                   "x": {"field": "x", "type": "quantitative", "scale": {"domain": [18, 25], "nice": false, "zero": false}, "axis": {"orient": "top", "values": [19, 21, 23], "tickSize": -7, "title": null}},
                   "y": {"field": "y", "type": "quantitative", "scale": {"domain": [1.73, 4.57], "nice": false, "zero": false}, "axis": {"orient": "right", "values": [1.8, 2.2, 2.4, 2.6, 2.8, 3.2, 3.4, 3.6, 3.8, 4.2, 4.4], "tickSize": -7, "title": null}}}},
                {"data": {"name": "dash"}, "mark": {"type": "line", "opacity": 0},
                 "encoding": {
                   "x": {"field": "x", "type": "quantitative", "scale": {"domain": [18, 25], "nice": false, "zero": false}, "axis": null},
                   "y": {"field": "y", "type": "quantitative", "scale": {"domain": [1.73, 4.57], "nice": false, "zero": false}, "axis": {"orient": "left", "values": [2, 3, 4], "ticks": false, "tickSize": 0, "labels": true, "labelPadding": 10, "labelFont": "Liberation Sans", "labelFontSize": 15, "labelColor": "#222", "title": null}}}}
              ]
            },
            {
              "width": 345, "height": 233,
              "view": {"stroke": null, "fill": "white"},
              "resolve": {"axis": {"x": "independent", "y": "independent"}},
              "layer": [
                {"data": {"name": "tr"}, "mark": {"type": "line", "stroke": "#222", "strokeWidth": 1.1, "clip": true},
                 "encoding": {
                   "x": {"field": "x", "type": "quantitative", "scale": {"domain": [18, 24.9], "nice": false, "zero": false}, "axis": {"orient": "bottom", "domain": true, "values": [20, 22, 24], "tickSize": -11, "title": null}},
                   "y": {"field": "y", "type": "quantitative", "scale": {"domain": [1.73, 4.57], "nice": false, "zero": false}, "axis": {"orient": "left", "domain": true, "values": [2, 3, 4], "tickSize": -11, "title": null}},
                   "detail": {"field": "g", "type": "nominal"}}},
                {"data": {"name": "dash"}, "mark": {"type": "line", "stroke": "#111", "strokeWidth": 2.3, "strokeDash": [11, 6], "clip": true},
                 "encoding": {
                   "x": {"field": "x", "type": "quantitative", "scale": {"domain": [18, 24.9], "nice": false, "zero": false}, "axis": {"orient": "bottom", "values": [19, 21, 23], "tickSize": -7, "title": null}},
                   "y": {"field": "y", "type": "quantitative", "scale": {"domain": [1.73, 4.57], "nice": false, "zero": false}, "axis": {"orient": "left", "values": [1.8, 2.2, 2.4, 2.6, 2.8, 3.2, 3.4, 3.6, 3.8, 4.2, 4.4], "tickSize": -7, "title": null}}}},
                {"data": {"values": [{"x": 18.86, "y": 2.1, "t": "3≦T<5"}]}, "mark": {"type": "text", "align": "left", "baseline": "middle", "font": "Liberation Sans", "fontSize": 18, "color": "#111"},
                 "encoding": {
                   "x": {"field": "x", "type": "quantitative", "scale": {"domain": [18, 24.9], "nice": false, "zero": false}, "axis": {"orient": "top", "domain": true, "values": [20, 22, 24], "tickSize": -11, "title": null}},
                   "y": {"field": "y", "type": "quantitative", "scale": {"domain": [1.73, 4.57], "nice": false, "zero": false}, "axis": {"orient": "right", "values": [2, 3, 4], "tickSize": -11, "title": null}},
                   "text": {"field": "t"}}},
                {"data": {"name": "dash"}, "mark": {"type": "line", "opacity": 0},
                 "encoding": {
                   "x": {"field": "x", "type": "quantitative", "scale": {"domain": [18, 24.9], "nice": false, "zero": false}, "axis": {"orient": "top", "values": [19, 21, 23], "tickSize": -7, "title": null}},
                   "y": {"field": "y", "type": "quantitative", "scale": {"domain": [1.73, 4.57], "nice": false, "zero": false}, "axis": {"orient": "right", "values": [1.8, 2.2, 2.4, 2.6, 2.8, 3.2, 3.4, 3.6, 3.8, 4.2, 4.4], "tickSize": -7, "title": null}}}}
              ]
            },

            {"width": 79, "height": 232, "data": {"values": [{"a": 1}]}, "mark": {"type": "point", "opacity": 0}, "view": {"fill": "white", "stroke": null}},
            {
              "width": 349, "height": 232,
              "view": {"stroke": null, "fill": "white"},
              "resolve": {"axis": {"x": "independent", "y": "independent"}},
              "layer": [
                {"data": {"name": "bl"}, "mark": {"type": "line", "stroke": "#222", "strokeWidth": 1.1, "clip": true},
                 "encoding": {
                   "x": {"field": "x", "type": "quantitative", "scale": {"domain": [18, 25], "nice": false, "zero": false}, "axis": {"orient": "bottom", "domain": true, "values": [20, 22, 24], "tickSize": -11, "title": null}},
                   "y": {"field": "y", "type": "quantitative", "scale": {"domain": [1.74, 4.59], "nice": false, "zero": false}, "axis": {"orient": "left", "domain": true, "values": [2, 3, 4], "tickSize": -11, "title": null}},
                   "detail": {"field": "g", "type": "nominal"}}},
                {"data": {"name": "dash"}, "mark": {"type": "line", "stroke": "#111", "strokeWidth": 2.3, "strokeDash": [11, 6], "clip": true},
                 "encoding": {
                   "x": {"field": "x", "type": "quantitative", "scale": {"domain": [18, 25], "nice": false, "zero": false}, "axis": {"orient": "bottom", "values": [19, 21, 23], "tickSize": -7, "title": null}},
                   "y": {"field": "y", "type": "quantitative", "scale": {"domain": [1.74, 4.59], "nice": false, "zero": false}, "axis": {"orient": "left", "values": [1.8, 2.2, 2.4, 2.6, 2.8, 3.2, 3.4, 3.6, 3.8, 4.2, 4.4], "tickSize": -7, "title": null}}}},
                {"data": {"values": [{"x": 18.82, "y": 2.1, "t": "5≦T<6"}]}, "mark": {"type": "text", "align": "left", "baseline": "middle", "font": "Liberation Sans", "fontSize": 18, "color": "#111"},
                 "encoding": {
                   "x": {"field": "x", "type": "quantitative", "scale": {"domain": [18, 25], "nice": false, "zero": false}, "axis": {"orient": "top", "domain": true, "values": [20, 22, 24], "tickSize": -11, "title": null}},
                   "y": {"field": "y", "type": "quantitative", "scale": {"domain": [1.74, 4.59], "nice": false, "zero": false}, "axis": {"orient": "right", "domain": true, "values": [2, 3, 4], "tickSize": -11, "title": null}},
                   "text": {"field": "t"}}},
                {"data": {"name": "dash"}, "mark": {"type": "line", "opacity": 0},
                 "encoding": {
                   "x": {"field": "x", "type": "quantitative", "scale": {"domain": [18, 25], "nice": false, "zero": false}, "axis": {"orient": "top", "values": [19, 21, 23], "tickSize": -7, "title": null}},
                   "y": {"field": "y", "type": "quantitative", "scale": {"domain": [1.74, 4.59], "nice": false, "zero": false}, "axis": {"orient": "right", "values": [1.8, 2.2, 2.4, 2.6, 2.8, 3.2, 3.4, 3.6, 3.8, 4.2, 4.4], "tickSize": -7, "title": null}}}},
                {"data": {"name": "dash"}, "mark": {"type": "line", "opacity": 0},
                 "encoding": {
                   "x": {"field": "x", "type": "quantitative", "scale": {"domain": [18, 25], "nice": false, "zero": false}, "axis": null},
                   "y": {"field": "y", "type": "quantitative", "scale": {"domain": [1.74, 4.59], "nice": false, "zero": false}, "axis": {"orient": "left", "values": [2, 3, 4], "ticks": false, "tickSize": 0, "labels": true, "labelPadding": 10, "labelFont": "Liberation Sans", "labelFontSize": 15, "labelColor": "#222", "title": "μB−μK", "titleFont": "Liberation Serif", "titleFontSize": 32, "titleFontWeight": "normal", "titleColor": "#222", "titleX": -44, "titleY": -1, "titleAngle": -90, "titleBaseline": "middle", "titleAlign": "center"}}}}
              ]
            },
            {
              "width": 345, "height": 232,
              "view": {"stroke": null, "fill": "white"},
              "resolve": {"axis": {"x": "independent", "y": "independent"}},
              "layer": [
                {"data": {"name": "br"}, "mark": {"type": "line", "stroke": "#222", "strokeWidth": 1.1, "clip": true},
                 "encoding": {
                   "x": {"field": "x", "type": "quantitative", "scale": {"domain": [18, 24.9], "nice": false, "zero": false}, "axis": {"orient": "bottom", "domain": true, "values": [20, 22, 24], "tickSize": -11, "title": null}},
                   "y": {"field": "y", "type": "quantitative", "scale": {"domain": [1.74, 4.59], "nice": false, "zero": false}, "axis": {"orient": "left", "domain": true, "values": [2, 3, 4], "tickSize": -11, "title": null}},
                   "detail": {"field": "g", "type": "nominal"}}},
                {"data": {"name": "dash"}, "mark": {"type": "line", "stroke": "#111", "strokeWidth": 2.3, "strokeDash": [11, 6], "clip": true},
                 "encoding": {
                   "x": {"field": "x", "type": "quantitative", "scale": {"domain": [18, 24.9], "nice": false, "zero": false}, "axis": {"orient": "bottom", "values": [19, 21, 23], "tickSize": -7, "title": null}},
                   "y": {"field": "y", "type": "quantitative", "scale": {"domain": [1.74, 4.59], "nice": false, "zero": false}, "axis": {"orient": "left", "values": [1.8, 2.2, 2.4, 2.6, 2.8, 3.2, 3.4, 3.6, 3.8, 4.2, 4.4], "tickSize": -7, "title": null}}}},
                {"data": {"values": [{"x": 18.78, "y": 2.1, "t": "6≦T≦10"}]}, "mark": {"type": "text", "align": "left", "baseline": "middle", "font": "Liberation Sans", "fontSize": 18, "color": "#111"},
                 "encoding": {
                   "x": {"field": "x", "type": "quantitative", "scale": {"domain": [18, 24.9], "nice": false, "zero": false}, "axis": {"orient": "top", "domain": true, "values": [20, 22, 24], "tickSize": -11, "title": null}},
                   "y": {"field": "y", "type": "quantitative", "scale": {"domain": [1.74, 4.59], "nice": false, "zero": false}, "axis": {"orient": "right", "values": [2, 3, 4], "tickSize": -11, "title": null}},
                   "text": {"field": "t"}}},
                {"data": {"name": "dash"}, "mark": {"type": "line", "opacity": 0},
                 "encoding": {
                   "x": {"field": "x", "type": "quantitative", "scale": {"domain": [18, 24.9], "nice": false, "zero": false}, "axis": {"orient": "top", "values": [19, 21, 23], "tickSize": -7, "title": null}},
                   "y": {"field": "y", "type": "quantitative", "scale": {"domain": [1.74, 4.59], "nice": false, "zero": false}, "axis": {"orient": "right", "values": [1.8, 2.2, 2.4, 2.6, 2.8, 3.2, 3.4, 3.6, 3.8, 4.2, 4.4], "tickSize": -7, "title": null}}}}
              ]
            },

            {"width": 79, "height": 71, "data": {"values": [{"a": 1}]}, "mark": {"type": "point", "opacity": 0}, "view": {"fill": "white", "stroke": null}},
            {"width": 349, "height": 71, "data": {"name": "dash"}, "mark": {"type": "point", "opacity": 0}, "view": {"fill": "white", "stroke": null},
             "encoding": {"x": {"field": "x", "type": "quantitative", "scale": {"domain": [18, 25], "nice": false, "zero": false},
               "axis": {"orient": "top", "offset": -22, "values": [18, 20, 22, 24], "ticks": false, "tickSize": 0, "labels": true, "labelPadding": 2, "labelFont": "Liberation Sans", "labelFontSize": 15, "labelColor": "#222", "title": null}}}},
            {"width": 345, "height": 71, "data": {"name": "dash"}, "mark": {"type": "point", "opacity": 0}, "view": {"fill": "white", "stroke": null},
             "encoding": {"x": {"field": "x", "type": "quantitative", "scale": {"domain": [18, 24.9], "nice": false, "zero": false},
               "axis": {"orient": "top", "offset": -22, "values": [18, 20, 22, 24], "ticks": false, "tickSize": 0, "labels": true, "labelPadding": 2, "labelFont": "Liberation Sans", "labelFontSize": 15, "labelColor": "#222",
                        "title": "μR (R−mag arcsec⁻²)", "titleFont": "Liberation Serif", "titleFontSize": 26, "titleFontWeight": "normal", "titleColor": "#222", "titleX": -5, "titleY": 35, "titleBaseline": "alphabetic", "titleAlign": "center", "titleAngle": 0}}}}
          ]
        }
      ]
    }
  ]
}
